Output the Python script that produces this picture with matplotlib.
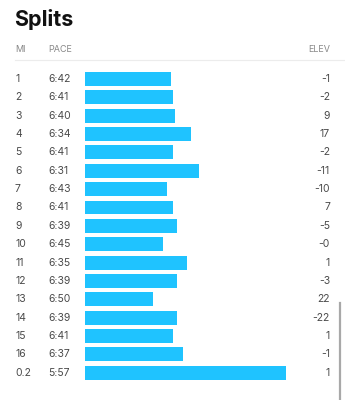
import matplotlib
matplotlib.use("Agg")
import matplotlib.pyplot as plt
from matplotlib.transforms import blended_transform_factory

# splits data
miles = ["1", "2", "3", "4", "5", "6", "7", "8", "9", "10",
         "11", "12", "13", "14", "15", "16", "0.2"]
paces = ["6:42", "6:41", "6:40", "6:34", "6:41", "6:31", "6:43", "6:41", "6:39",
         "6:45", "6:35", "6:39", "6:50", "6:39", "6:41", "6:37", "5:57"]
elevs = ["-1", "-2", "9", "17", "-2", "-11", "-10", "7", "-5",
         "-0", "1", "-3", "22", "-22", "1", "-1", "1"]
bar_len = [86, 88, 90, 106, 88, 114, 82, 88, 92, 78, 102, 92, 68, 92, 88, 98, 201]

W, H = 345, 400
fig = plt.figure(figsize=(W / 100, H / 100), dpi=100)
plt.rcParams['font.family'] = ['Inter', 'DejaVu Sans']

# bar area
row_top, row_bot = 69.8, 381.9
ax = fig.add_axes([85 / W, 1 - row_bot / H, 260 / W, (row_bot - row_top) / H])
ax.barh(range(len(miles)), bar_len, height=0.76, color="#1fc3ff", left=0)
ax.set_xlim(0, 260)
ax.set_ylim(len(miles) - 0.5, -0.5)
ax.axis("off")

tr = blended_transform_factory(fig.transFigure, ax.transData)
for i in range(len(miles)):
    ax.text(15 / W, i, miles[i], transform=tr, ha="left", va="center",
            fontsize=7.5, color="#4a4a4a")
    ax.text(48 / W, i, paces[i], transform=tr, ha="left", va="center",
            fontsize=7.5, color="#4a4a4a")
    ax.text(330 / W, i, elevs[i], transform=tr, ha="right", va="center",
            fontsize=7.5, color="#4a4a4a")

# title + header
fig.text(14 / W, 1 - 19 / H, "Splits", ha="left", va="center",
         fontsize=15.5, fontweight="bold", color="#111111")
fig.text(15 / W, 1 - 49 / H, "MI", ha="left", va="center", fontsize=6.5, color="#888888")
fig.text(48 / W, 1 - 49 / H, "PACE", ha="left", va="center", fontsize=6.5, color="#888888")
fig.text(330 / W, 1 - 49 / H, "ELEV", ha="right", va="center", fontsize=6.5, color="#888888")
fig.add_artist(plt.Line2D([15 / W, 1], [1 - 60 / H, 1 - 60 / H], color="#ececec", lw=0.8))

# scrollbar
fig.add_artist(plt.Line2D([340 / W, 340 / W], [1 - 303 / H, 0], color="#a8a8a8", lw=1.6))

fig.savefig("out.png", dpi=100)
